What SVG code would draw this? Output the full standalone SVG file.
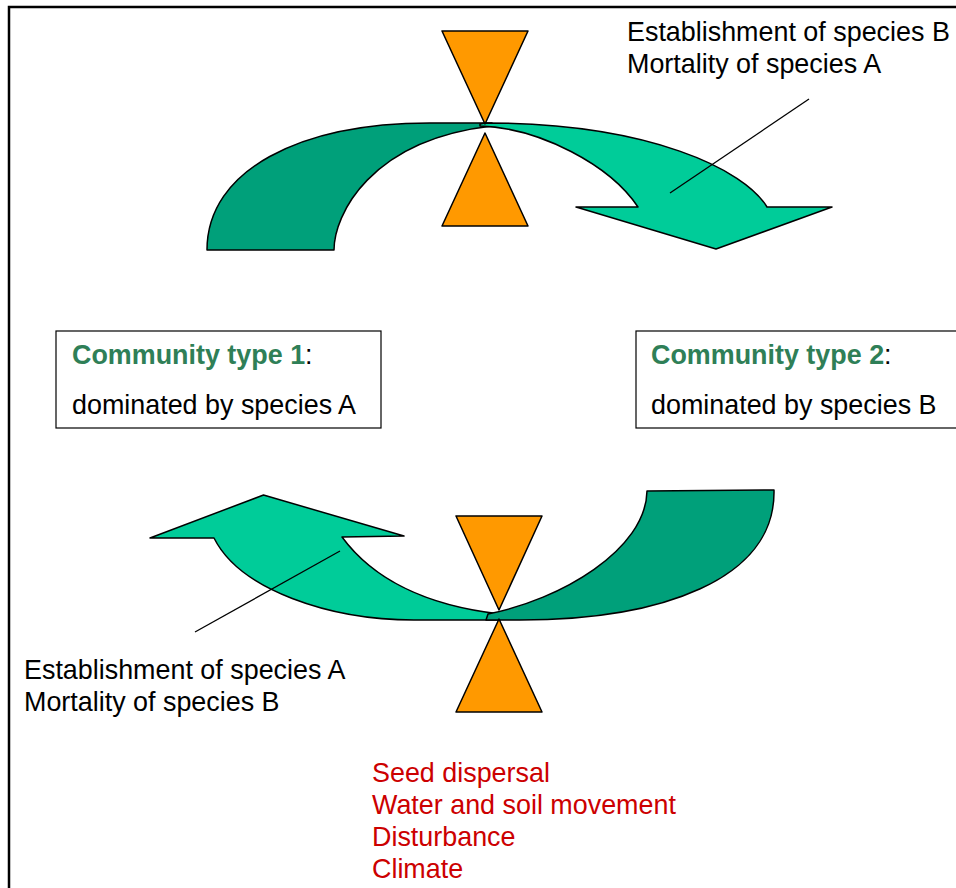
<svg xmlns="http://www.w3.org/2000/svg" width="956" height="888" viewBox="0 0 956 888">
<style>
text{font-family:"Liberation Sans",Arial,sans-serif;font-size:26.9px;fill:#000}
.ttl{font-weight:bold;fill:#2F7F57}
.red{fill:#CC0000}
.dark{fill:#00A07A;stroke:#000;stroke-width:1.5;stroke-linejoin:round}
.light{fill:#00CC99;stroke:#000;stroke-width:1.5;stroke-linejoin:round}
.tri{fill:#FF9900;stroke:#000;stroke-width:1.5;stroke-linejoin:round}
.box{fill:#fff;stroke:#000;stroke-width:1.2}
.lead{stroke:#000;stroke-width:1.3;fill:none}
</style>
<rect width="956" height="888" fill="#fff"/>
<path d="M9,888 V7 H956" fill="none" stroke="#000" stroke-width="2.5"/>

<g id="top-cycle">
  <path class="dark" d="M207,250 C207,170 300,123 430,123 L492,123 L492,126 C370,140 334,215 334,250 Z"/>
  <path class="light" d="M480,124 L485,123 C650,123 745,170 767,207 L832,207 L716,249 L576,207 L638,207 C610,165 540,128 480,126 Z"/>
  <polygon class="tri" points="442,31 528,31 485,124"/>
  <polygon class="tri" points="485,133 442,226 528,226"/>
</g>

<g id="bottom-cycle">
  <path class="light" d="M150,538 L263.5,495 L404,536 L342,537 C370,575 420,605 500,614 L500,620 L414,620 C330,620 240,590 214,538 Z"/>
  <path class="dark" d="M647,491 L774,490 C776,580 660,620 520,620 L486,620 L488,614 C560,600 646,550 647,491 Z"/>
  <polygon class="tri" points="456,516 542,516 499,610"/>
  <polygon class="tri" points="499,619 456,712 542,712"/>
</g>

<g id="community-1">
  <rect class="box" x="56" y="331" width="325" height="97"/>
  <text x="72" y="364"><tspan class="ttl">Community type 1</tspan>:</text>
  <text x="72" y="414">dominated by species A</text>
</g>

<g id="community-2">
  <rect class="box" x="636" y="331" width="325" height="97"/>
  <text x="651" y="364"><tspan class="ttl">Community type 2</tspan>:</text>
  <text x="651" y="414">dominated by species B</text>
</g>

<g id="label-top">
  <text x="627" y="41">Establishment of species B</text>
  <text x="627" y="73">Mortality of species A</text>
</g>

<g id="label-bottom">
  <text x="24" y="679">Establishment of species A</text>
  <text x="24" y="711">Mortality of species B</text>
</g>

<g id="drivers">
  <text class="red" x="372" y="782">Seed dispersal</text>
  <text class="red" x="372" y="814">Water and soil movement</text>
  <text class="red" x="372" y="846">Disturbance</text>
  <text class="red" x="372" y="878">Climate</text>
</g>

<g id="connectors">
  <line class="lead" x1="809" y1="99" x2="670" y2="193"/>
  <line class="lead" x1="340" y1="551" x2="195" y2="632"/>
</g>
</svg>
